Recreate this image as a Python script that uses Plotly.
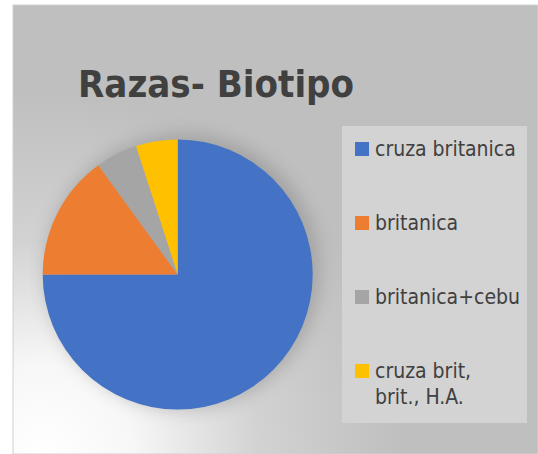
import base64
import plotly.graph_objects as go

# ---- data ----
labels = ["cruza britanica", "britanica", "britanica+cebu", "cruza brit, brit., H.A."]
legend_lines = [["cruza britanica"], ["britanica"], ["britanica+cebu"], ["cruza brit,", "brit., H.A."]]
values = [75, 15, 5, 5]
colors = ["#4472C4", "#ED7D31", "#A5A5A5", "#FFC000"]
title = "Razas- Biotipo"

W, H = 538, 454
FONT = "DejaVu Sans Condensed, Open Sans"


def fx(x):
    return x / W


def fy(y):
    return 1 - y / H


# background: grey chart area with a white radial highlight bottom-left and a soft pie shadow
bg_x0, bg_y0 = 13, 5
bw, bh = W - bg_x0, H - bg_y0
pcx, pcy, pr = 177.7, 274.5, 135
cx, cy = pcx - bg_x0, pcy - bg_y0
svg = f'''<svg xmlns="http://www.w3.org/2000/svg" width="{bw}" height="{bh}" viewBox="0 0 {bw} {bh}">
<defs>
<radialGradient id="g" gradientUnits="userSpaceOnUse" cx="30" cy="{bh}" r="360">
<stop offset="0" stop-color="#ffffff"/>
<stop offset="0.25" stop-color="#f7f7f7"/>
<stop offset="0.6" stop-color="#d2d2d2"/>
<stop offset="1" stop-color="#bfbfbf"/>
</radialGradient>
<filter id="b" x="-30%" y="-30%" width="160%" height="160%"><feGaussianBlur stdDeviation="9"/></filter>
</defs>
<rect x="0" y="0" width="{bw}" height="{bh}" fill="url(#g)"/>
<circle cx="{cx + 5}" cy="{cy - 3}" r="{pr + 2}" fill="#7a7a7a" opacity="0.45" filter="url(#b)"/>
</svg>'''
src = "data:image/svg+xml;base64," + base64.b64encode(svg.encode()).decode()

fig = go.Figure(
    go.Pie(
        labels=labels,
        values=values,
        marker=dict(colors=colors, line=dict(width=0)),
        sort=False,
        direction="clockwise",
        rotation=0,
        textinfo="none",
        hoverinfo="label+percent",
        showlegend=False,
        domain=dict(x=[fx(pcx - pr), fx(pcx + pr)], y=[fy(pcy + pr), fy(pcy - pr)]),
    )
)

shapes = [
    dict(type="rect", xref="paper", yref="paper", x0=fx(bg_x0), x1=1.0, y0=0, y1=fy(bg_y0),
         line=dict(color="#d0d0d0", width=1), fillcolor="rgba(0,0,0,0)", layer="below"),
    dict(type="rect", xref="paper", yref="paper", x0=fx(342), x1=fx(527), y0=fy(423), y1=fy(126),
         line=dict(width=0), fillcolor="#d3d3d3", layer="above"),
]
annotations = [
    dict(text=f"<b>{title}</b>", xref="paper", yref="paper", x=fx(76), y=fy(84),
         xanchor="left", yanchor="middle", showarrow=False,
         font=dict(family=FONT, size=38, color="#404040")),
]
item_y = [149, 223, 297, 371]
for lines, c, yy in zip(legend_lines, colors, item_y):
    shapes.append(dict(type="rect", xref="paper", yref="paper", x0=fx(355), x1=fx(369),
                       y0=fy(yy + 7), y1=fy(yy - 7), line=dict(width=0), fillcolor=c, layer="above"))
    for k, ln in enumerate(lines):
        annotations.append(dict(text=ln, xref="paper", yref="paper", x=fx(373), y=fy(yy + 26 * k),
                                xanchor="left", yanchor="middle", align="left", showarrow=False,
                                font=dict(family=FONT, size=21, color="#404040")))

fig.update_layout(
    width=W, height=H,
    margin=dict(l=0, r=0, t=0, b=0),
    paper_bgcolor="white",
    images=[dict(source=src, xref="paper", yref="paper", x=fx(bg_x0), y=fy(bg_y0),
                 sizex=bw / W, sizey=bh / H, sizing="stretch", xanchor="left", yanchor="top",
                 layer="below")],
    shapes=shapes,
    annotations=annotations,
)

fig.write_html("out.html", config={"displayModeBar": False},
               post_script="document.body.style.margin='0';")
